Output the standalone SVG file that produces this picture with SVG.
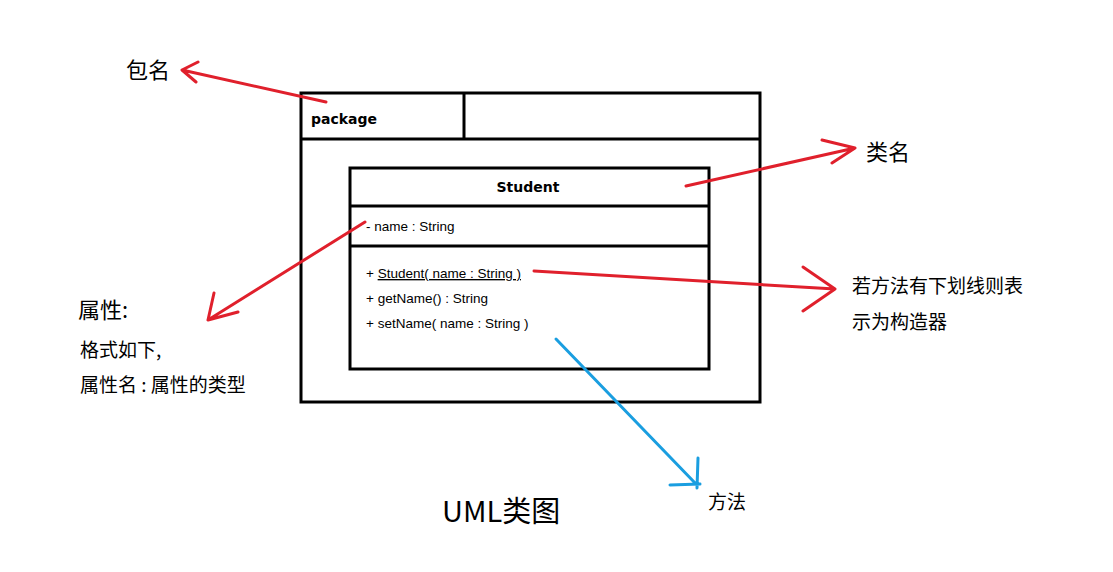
<svg xmlns="http://www.w3.org/2000/svg" width="1113" height="572" viewBox="0 0 1113 572" xml:space="preserve">
<style>
.b{fill:none;stroke:#000;stroke-width:3}
.r{fill:none;stroke:#e0202c;stroke-width:3;stroke-linecap:round}
.bl{fill:none;stroke:#1a9ee0;stroke-width:3;stroke-linecap:round}
.t{font-family:"Liberation Sans","Noto Sans CJK SC",sans-serif;font-size:13.5px;fill:#000}
.tb{font-family:"DejaVu Sans","Noto Sans CJK SC",sans-serif;font-size:14px;font-weight:bold;fill:#000}
.c{font-family:"Noto Sans CJK SC",sans-serif;fill:#000}
</style>
<rect width="1113" height="572" fill="#fff"/>
<g id="package">
<rect class="b" x="301" y="93" width="459" height="309"/>
<line class="b" x1="301" y1="139" x2="760" y2="139"/>
<line class="b" x1="464" y1="93" x2="464" y2="140"/>
<text class="tb" x="311" y="124">package</text>
</g>
<g id="student">
<rect class="b" x="350" y="168" width="359" height="201"/>
<line class="b" x1="350" y1="206" x2="709" y2="206"/>
<line class="b" x1="350" y1="246" x2="709" y2="246"/>
<text class="tb" x="528" y="192" text-anchor="middle">Student</text>
<text class="t" x="366" y="231">- name  :  String</text>
<text class="t" x="366" y="278">+ <tspan text-decoration="underline">Student( name : String  )</tspan></text>
<text class="t" x="366" y="303">+ getName() : String</text>
<text class="t" x="366" y="328">+ setName( name : String )</text>
</g>
<g id="labels">
<text class="c" x="126" y="78" style="font-size:22px">包名</text>
<text class="c" x="866" y="160" style="font-size:22px">类名</text>
<text class="c" x="78" y="318" style="font-size:22px">属性:</text>
<text class="c" x="80" y="357" style="font-size:19px">格式如下,</text>
<text class="c" x="80" y="392" style="font-size:19px">属性名 :  属性的类型</text>
<text class="c" x="852" y="293" style="font-size:19px">若方法有下划线则表</text>
<text class="c" x="852" y="329" style="font-size:19px">示为构造器</text>
<text class="c" x="708" y="509" style="font-size:19px">方法</text>
<text class="c" x="442" y="522" style="font-size:29px">UML类图</text>
</g>
<g id="connectors">
<path class="r" d="M326 102 L182 70 M182 70 L198 62 M182 70 L196 82"/>
<path class="r" d="M686 186 L855 148 M855 148 L822 140 M855 148 L832 163"/>
<path class="r" d="M365 222 L208 320 M208 320 L214 293 M208 320 L238 312"/>
<path class="r" d="M534 271 L835 289 M835 289 L803 267 M835 289 L803 311"/>
<path class="bl" d="M556 339 L696 484 M698 458 L697 488 M670 485 L700 484"/>
</g>
</svg>
